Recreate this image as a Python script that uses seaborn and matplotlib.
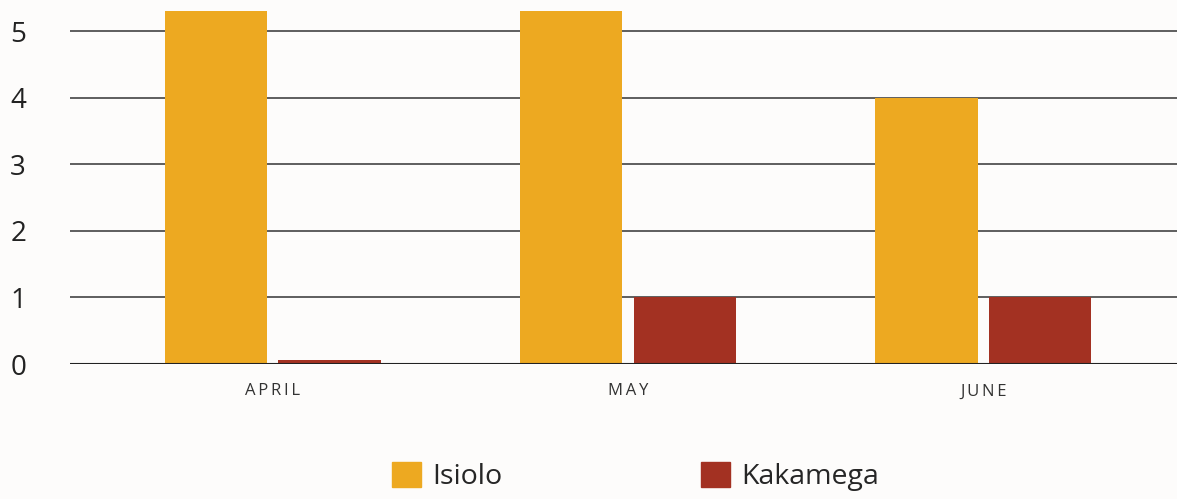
import numpy as np
import pandas as pd
import matplotlib
matplotlib.use("Agg")
import matplotlib.pyplot as plt
import seaborn as sns

months = ["APRIL", "MAY", "JUNE"]
series = ["Isiolo", "Kakamega"]
isiolo = [5.3, 5.3, 4.0]
kakamega = [0.06, 1.0, 1.0]
colors = ["#EDA921", "#A33122"]

df = pd.DataFrame({
    "month": months * 2,
    "county": [series[0]] * 3 + [series[1]] * 3,
    "value": isiolo + kakamega,
})

sns.set_theme(style="white")
plt.rcParams["font.family"] = ["Open Sans", "DejaVu Sans"]

fig = plt.figure(figsize=(11.77, 4.99), dpi=100)
fig.patch.set_facecolor("#fdfcfb")
ax = fig.add_axes([0.0595, 0.2705, 0.9405, 0.7295])
ax.set_facecolor("none")

sns.barplot(data=df, x="month", y="value", hue="county", order=months,
            hue_order=series, palette=colors, width=0.64, gap=0.1,
            saturation=1, linewidth=0, ax=ax, zorder=3)

ax.set_ylim(0, 5.47)
ax.set_xlim(-0.57, 2.545)
ax.set_yticks(range(6))
ax.yaxis.grid(True, color="#444444", lw=1.2, zorder=0)
ax.axhline(0, color="#222222", lw=1.5, zorder=4)
for s in ax.spines.values():
    s.set_visible(False)
ax.set_xlabel("")
ax.set_ylabel("")
ax.tick_params(axis="y", labelsize=20, labelcolor="#222222", pad=43, length=0)
ax.tick_params(axis="x", labelsize=12, labelcolor="#333333", pad=14, length=0)
for lab in ax.get_yticklabels():
    lab.set_horizontalalignment("left")
ax.set_xticks(range(3))
ax.set_xticklabels(["\u2009".join(m) for m in months])

ax.legend_.remove()
handles = [plt.Rectangle((0, 0), 1, 1, color=c) for c in colors]
fig.legend(handles, series, loc="center", bbox_to_anchor=(0.54, 0.045),
           ncol=2, frameon=False, fontsize=20.5, handlelength=1.0,
           handleheight=1.0, handletextpad=0.4, columnspacing=7.0)

fig.savefig("out.png", dpi=100, facecolor=fig.get_facecolor())
